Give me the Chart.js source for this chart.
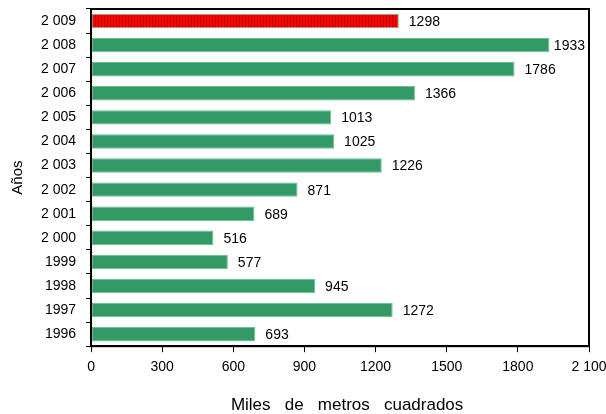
<!DOCTYPE html>
<html>
<head>
<meta charset="utf-8">
<script src="https://cdn.jsdelivr.net/npm/chart.js@4"></script>
<style>
  body { margin: 0; background: #fff; }
  canvas { display: block; }
</style>
</head>
<body>
<canvas id="chart" width="606" height="414"></canvas>
<script>
var years = ['2 009', '2 008', '2 007', '2 006', '2 005', '2 004', '2 003', '2 002', '2 001', '2 000', '1999', '1998', '1997', '1996'];
var areas = [1298, 1933, 1786, 1366, 1013, 1025, 1226, 871, 689, 516, 577, 945, 1272, 693];
var xTicks = [0, 300, 600, 900, 1200, 1500, 1800, 2100];

var ctx = document.getElementById("chart").getContext('2d');
var fontFamily = '"Liberation Sans", Arial, sans-serif';

// red bar with darker stripes for the current year
function stripePattern() {
    var c = document.createElement('canvas');
    c.width = 3;
    c.height = 10;
    var p = c.getContext('2d');
    p.fillStyle = '#ff0000';
    p.fillRect(0, 0, 3, 10);
    p.fillStyle = '#c00000';
    p.fillRect(2, 0, 1, 10);
    return ctx.createPattern(c, 'repeat');
}

function getColours() {
    return areas.map((v, i) => i === 0 ? stripePattern() : '#339966');
}

var frame = {
    id: 'frame',
    afterDraw(chart) {
        var a = chart.chartArea;
        var c = chart.ctx;
        c.save();
        c.strokeStyle = '#000';
        c.lineWidth = 2;
        c.strokeRect(a.left, a.top, a.right - a.left, a.bottom - a.top);
        c.restore();
    }
};

var valueLabels = {
    id: 'valueLabels',
    afterDatasetsDraw(chart) {
        var c = chart.ctx;
        var meta = chart.getDatasetMeta(0);
        c.save();
        c.font = '14px ' + fontFamily;
        c.fillStyle = '#000';
        c.textBaseline = 'middle';
        meta.data.forEach(function (bar, i) {
            var txt = String(areas[i]);
            var w = c.measureText(txt).width;
            var x = Math.min(bar.x + 10, chart.chartArea.right - w - 4);
            c.fillText(txt, x, bar.y + 1);
        });
        c.restore();
    }
};

var chart = new Chart(ctx, {
    type: 'bar',
    data: {
        labels: years,
        datasets: [{
            data: areas,
            backgroundColor: getColours(),
            borderColor: '#6cc291',
            borderWidth: 1,
            borderSkipped: false,
            categoryPercentage: 1,
            barPercentage: 0.6
        }]
    },
    options: {
        indexAxis: 'y',
        responsive: false,
        animation: false,
        layout: { padding: { top: 9, right: 17, left: 5, bottom: 0 } },
        plugins: {
            legend: { display: false },
            tooltip: { enabled: false }
        },
        scales: {
            x: {
                min: 0,
                max: 2100,
                afterBuildTicks: function (axis) {
                    axis.ticks = xTicks.map(v => ({ value: v }));
                },
                afterFit: function (axis) {
                    axis.paddingLeft = 0;
                    axis.paddingRight = 0;
                },
                grid: {
                    drawOnChartArea: false,
                    tickLength: 6,
                    tickColor: '#000',
                    tickWidth: 1
                },
                border: { color: '#000', width: 2 },
                ticks: {
                    color: '#000',
                    font: { family: fontFamily, size: 14 },
                    padding: 7,
                    maxRotation: 0,
                    callback: v => v === 2100 ? '2 100' : String(v)
                },
                title: {
                    display: true,
                    text: '   Miles   de   metros   cuadrados',
                    color: '#000',
                    font: { family: fontFamily, size: 17, lineHeight: 1 },
                    padding: { top: 14, bottom: 0 }
                }
            },
            y: {
                afterFit: function (axis) {
                    axis.paddingTop = 0;
                    axis.paddingBottom = 0;
                },
                grid: {
                    offset: true,
                    drawOnChartArea: false,
                    tickLength: 5,
                    tickColor: '#000',
                    tickWidth: 1
                },
                border: { color: '#000', width: 2 },
                ticks: {
                    color: '#000',
                    font: { family: fontFamily, size: 14 },
                    padding: 10
                },
                title: {
                    display: true,
                    text: 'Años',
                    color: '#000',
                    font: { family: fontFamily, size: 15 },
                    padding: { bottom: 4 }
                }
            }
        }
    },
    plugins: [frame, valueLabels]
});
</script>
</body>
</html>
